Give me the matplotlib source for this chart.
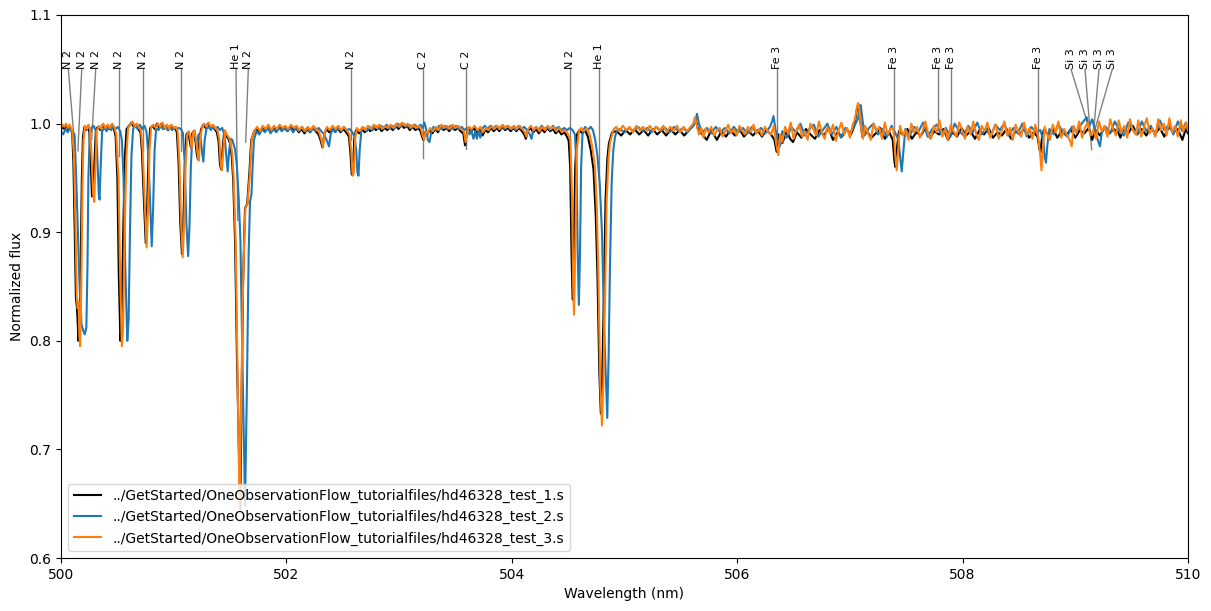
import numpy as np
import matplotlib
matplotlib.use('Agg')
import matplotlib.pyplot as plt

# file names shown in legend
names = ['../GetStarted/OneObservationFlow_tutorialfiles/hd46328_test_1.s',
         '../GetStarted/OneObservationFlow_tutorialfiles/hd46328_test_2.s',
         '../GetStarted/OneObservationFlow_tutorialfiles/hd46328_test_3.s']

# (wavelength nm, normalized flux)
spec_1 = [
    (500.000, 0.994), (500.015, 0.998), (500.030, 0.995), (500.045, 0.999), (500.060, 0.995), (500.075, 0.998),
    (500.090, 0.995), (500.100, 0.990), (500.110, 0.965), (500.122, 0.900), (500.132, 0.840), (500.140, 0.832),
    (500.147, 0.820), (500.155, 0.800), (500.165, 0.815), (500.175, 0.870), (500.185, 0.950), (500.195, 0.988),
    (500.208, 0.997), (500.225, 0.994), (500.240, 0.998), (500.252, 0.992), (500.263, 0.968), (500.275, 0.933),
    (500.285, 0.935), (500.297, 0.965), (500.310, 0.995), (500.330, 0.997), (500.350, 0.994), (500.370, 0.999),
    (500.390, 0.995), (500.410, 0.998), (500.430, 0.995), (500.450, 0.999), (500.470, 0.995), (500.485, 0.988),
    (500.500, 0.950), (500.513, 0.860), (500.527, 0.800), (500.538, 0.815), (500.552, 0.900), (500.567, 0.970),
    (500.582, 0.995), (500.605, 0.998), (500.625, 1.001), (500.645, 0.997), (500.665, 0.999), (500.685, 0.995),
    (500.705, 0.992), (500.718, 0.975), (500.735, 0.930), (500.752, 0.890), (500.764, 0.920), (500.777, 0.975),
    (500.792, 0.996), (500.812, 0.998), (500.832, 0.995), (500.852, 1.000), (500.872, 0.996), (500.892, 1.000),
    (500.912, 0.995), (500.932, 0.998), (500.952, 0.994), (500.972, 0.998), (500.992, 0.995), (501.012, 0.996),
    (501.028, 0.992), (501.043, 0.965), (501.058, 0.910), (501.073, 0.880), (501.085, 0.905), (501.098, 0.960),
    (501.113, 0.990), (501.128, 0.992), (501.143, 0.984), (501.153, 0.978), (501.165, 0.991), (501.178, 0.993),
    (501.193, 0.984), (501.205, 0.972), (501.215, 0.967), (501.228, 0.985), (501.243, 0.995), (501.263, 0.999),
    (501.283, 0.996), (501.303, 1.000), (501.323, 0.996), (501.343, 0.998), (501.363, 0.995), (501.383, 0.992),
    (501.398, 0.984), (501.411, 0.962), (501.421, 0.958), (501.433, 0.975), (501.448, 0.993), (501.465, 0.989),
    (501.485, 0.986), (501.500, 0.982), (501.515, 0.970), (501.528, 0.948), (501.545, 0.890), (501.562, 0.780),
    (501.590, 0.645), (501.603, 0.750), (501.615, 0.850), (501.625, 0.893), (501.633, 0.922), (501.652, 0.926),
    (501.672, 0.955), (501.688, 0.985), (501.715, 0.993), (501.735, 0.995), (501.760, 0.991), (501.785, 0.996),
    (501.810, 0.993), (501.835, 0.997), (501.860, 0.992), (501.885, 0.996), (501.910, 0.993), (501.935, 0.997),
    (501.960, 0.994), (501.985, 0.996), (502.010, 0.993), (502.035, 0.997), (502.060, 0.994), (502.085, 0.996),
    (502.110, 0.992), (502.135, 0.995), (502.160, 0.991), (502.185, 0.995), (502.210, 0.992), (502.235, 0.996),
    (502.260, 0.993), (502.285, 0.990), (502.305, 0.984), (502.320, 0.978), (502.335, 0.990), (502.355, 0.995),
    (502.380, 0.992), (502.405, 0.996), (502.430, 0.993), (502.455, 0.996), (502.480, 0.992), (502.505, 0.995),
    (502.530, 0.992), (502.555, 0.988), (502.568, 0.973), (502.580, 0.953), (502.590, 0.956), (502.602, 0.985),
    (502.617, 0.994), (502.645, 0.991), (502.670, 0.995), (502.695, 0.992), (502.720, 0.996), (502.745, 0.993),
    (502.770, 0.997), (502.795, 0.994), (502.820, 0.997), (502.845, 0.993), (502.870, 0.996), (502.895, 0.994),
    (502.920, 0.997), (502.945, 0.994), (502.970, 0.998), (502.995, 0.995), (503.020, 0.999), (503.045, 0.996),
    (503.070, 0.998), (503.095, 0.994), (503.120, 0.997), (503.145, 0.994), (503.170, 0.996), (503.190, 0.993),
    (503.207, 0.987), (503.217, 0.985), (503.230, 0.992), (503.250, 0.990), (503.270, 0.994), (503.295, 0.991),
    (503.320, 0.995), (503.345, 0.992), (503.370, 0.997), (503.395, 0.994), (503.420, 0.996), (503.445, 0.993),
    (503.470, 0.997), (503.495, 0.994), (503.520, 0.996), (503.545, 0.993), (503.570, 0.991), (503.585, 0.980),
    (503.597, 0.988), (503.615, 0.995), (503.640, 0.993), (503.665, 0.996), (503.690, 0.991), (503.715, 0.995),
    (503.740, 0.989), (503.765, 0.994), (503.790, 0.992), (503.815, 0.996), (503.840, 0.993), (503.865, 0.996),
    (503.890, 0.993), (503.915, 0.997), (503.940, 0.994), (503.965, 0.996), (503.990, 0.993), (504.015, 0.996),
    (504.040, 0.993), (504.065, 0.996), (504.090, 0.993), (504.110, 0.990), (504.125, 0.986), (504.140, 0.993),
    (504.165, 0.996), (504.190, 0.992), (504.215, 0.995), (504.240, 0.991), (504.265, 0.995), (504.290, 0.992),
    (504.315, 0.996), (504.340, 0.993), (504.365, 0.995), (504.390, 0.991), (504.415, 0.994), (504.440, 0.990),
    (504.465, 0.992), (504.490, 0.988), (504.505, 0.984), (504.518, 0.960), (504.530, 0.880), (504.540, 0.838),
    (504.550, 0.880), (504.563, 0.960), (504.578, 0.990), (504.600, 0.994), (504.625, 0.991), (504.650, 0.994),
    (504.675, 0.988), (504.700, 0.976), (504.725, 0.958), (504.745, 0.915), (504.760, 0.860), (504.777, 0.770),
    (504.790, 0.733), (504.802, 0.765), (504.817, 0.840), (504.832, 0.930), (504.848, 0.968), (504.862, 0.982),
    (504.890, 0.992), (504.930, 0.993), (504.970, 0.989), (505.010, 0.994), (505.050, 0.990), (505.090, 0.995),
    (505.130, 0.990), (505.170, 0.994), (505.210, 0.989), (505.250, 0.995), (505.290, 0.990), (505.330, 0.994),
    (505.370, 0.989), (505.410, 0.995), (505.450, 0.990), (505.490, 0.994), (505.530, 0.989), (505.570, 0.994),
    (505.610, 0.998), (505.630, 1.004), (505.650, 0.996), (505.690, 0.990), (505.730, 0.985), (505.770, 0.994),
    (505.820, 0.985), (505.860, 0.993), (505.900, 0.988), (505.940, 0.994), (505.980, 0.989), (506.020, 0.995),
    (506.060, 0.988), (506.100, 0.993), (506.140, 0.989), (506.180, 0.994), (506.220, 0.988), (506.260, 0.994),
    (506.300, 0.990), (506.330, 0.985), (506.350, 0.974), (506.370, 0.990), (506.400, 0.982), (506.440, 0.993),
    (506.470, 0.986), (506.495, 0.983), (506.530, 0.992), (506.570, 0.987), (506.610, 0.995), (506.650, 0.990),
    (506.690, 0.986), (506.730, 0.994), (506.770, 0.989), (506.810, 0.996), (506.850, 0.985), (506.890, 0.992),
    (506.930, 0.988), (506.970, 0.995), (507.010, 0.990), (507.040, 0.998), (507.060, 1.012), (507.075, 1.018),
    (507.090, 1.005), (507.110, 0.988), (507.150, 0.993), (507.190, 0.987), (507.230, 0.991), (507.270, 0.996),
    (507.310, 0.986), (507.350, 0.992), (507.380, 0.985), (507.395, 0.965), (507.405, 0.960), (507.418, 0.978),
    (507.435, 0.993), (507.470, 0.990), (507.510, 0.995), (507.550, 0.986), (507.590, 0.992), (507.630, 0.989),
    (507.670, 0.996), (507.710, 0.987), (507.750, 0.993), (507.790, 0.990), (507.830, 0.995), (507.870, 0.985),
    (507.910, 0.992), (507.950, 0.988), (507.990, 0.996), (508.030, 0.989), (508.070, 0.993), (508.110, 0.986),
    (508.150, 0.994), (508.190, 0.990), (508.230, 0.996), (508.270, 0.987), (508.310, 0.992), (508.350, 0.989),
    (508.390, 0.995), (508.430, 0.986), (508.470, 0.993), (508.510, 0.990), (508.550, 0.996), (508.590, 0.987),
    (508.630, 0.992), (508.665, 0.988), (508.680, 0.978), (508.690, 0.973), (508.702, 0.985), (508.720, 0.994),
    (508.760, 0.990), (508.800, 0.996), (508.840, 0.987), (508.880, 0.993), (508.920, 0.989), (508.960, 0.995),
    (509.000, 0.987), (509.040, 0.994), (509.080, 0.991), (509.120, 0.996), (509.150, 0.985), (509.180, 0.994),
    (509.220, 0.989), (509.260, 0.997), (509.300, 0.991), (509.340, 0.995), (509.380, 0.992), (509.400, 0.987),
    (509.430, 0.996), (509.470, 0.991), (509.510, 0.998), (509.550, 0.990), (509.590, 0.995), (509.630, 0.989),
    (509.670, 0.997), (509.710, 0.991), (509.750, 0.996), (509.790, 0.988), (509.830, 0.997), (509.870, 0.992),
    (509.910, 0.995), (509.950, 0.985), (509.980, 0.995), (510.000, 0.991),
]

spec_2 = [
    (500.000, 0.993), (500.020, 0.990), (500.040, 0.995), (500.060, 0.992), (500.080, 0.996), (500.100, 0.993),
    (500.120, 0.990), (500.135, 0.950), (500.150, 0.900), (500.165, 0.850), (500.182, 0.815), (500.195, 0.810),
    (500.210, 0.806), (500.225, 0.812), (500.235, 0.870), (500.243, 0.950), (500.255, 0.990), (500.270, 0.996),
    (500.290, 0.998), (500.310, 0.993), (500.322, 0.970), (500.335, 0.935), (500.342, 0.930), (500.352, 0.960),
    (500.365, 0.993), (500.385, 0.996), (500.405, 0.993), (500.425, 0.997), (500.445, 0.994), (500.465, 0.998),
    (500.485, 0.995), (500.505, 0.997), (500.525, 0.993), (500.540, 0.985), (500.555, 0.950), (500.570, 0.870),
    (500.588, 0.800), (500.600, 0.820), (500.612, 0.900), (500.625, 0.970), (500.640, 0.995), (500.660, 0.998),
    (500.680, 0.995), (500.700, 0.999), (500.720, 0.995), (500.740, 0.998), (500.758, 0.993), (500.772, 0.975),
    (500.790, 0.930), (500.805, 0.887), (500.817, 0.920), (500.830, 0.975), (500.845, 0.996), (500.865, 0.994),
    (500.885, 0.998), (500.905, 0.995), (500.925, 0.998), (500.945, 0.994), (500.965, 0.997), (500.985, 0.994),
    (501.005, 0.997), (501.025, 0.995), (501.045, 0.996), (501.065, 0.995), (501.082, 0.991), (501.097, 0.965),
    (501.112, 0.910), (501.128, 0.878), (501.140, 0.905), (501.152, 0.960), (501.165, 0.988), (501.180, 0.992),
    (501.195, 0.985), (501.208, 0.978), (501.220, 0.990), (501.235, 0.990), (501.250, 0.975), (501.263, 0.965),
    (501.275, 0.985), (501.290, 0.995), (501.310, 0.997), (501.330, 0.994), (501.350, 0.998), (501.370, 0.995),
    (501.390, 0.997), (501.410, 0.994), (501.430, 0.996), (501.450, 0.990), (501.463, 0.975), (501.479, 0.956),
    (501.492, 0.975), (501.505, 0.986), (501.520, 0.985), (501.545, 0.976), (501.560, 0.962), (501.575, 0.935),
    (501.592, 0.893), (501.610, 0.780), (501.633, 0.648), (501.650, 0.760), (501.665, 0.880), (501.677, 0.928),
    (501.690, 0.935), (501.700, 0.960), (501.712, 0.985), (501.735, 0.993), (501.760, 0.990), (501.785, 0.995),
    (501.810, 0.992), (501.835, 0.996), (501.860, 0.991), (501.885, 0.995), (501.910, 0.992), (501.935, 0.996),
    (501.960, 0.993), (501.985, 0.997), (502.010, 0.993), (502.035, 0.996), (502.060, 0.992), (502.085, 0.996),
    (502.110, 0.993), (502.135, 0.997), (502.160, 0.993), (502.185, 0.996), (502.210, 0.992), (502.235, 0.996),
    (502.260, 0.993), (502.285, 0.996), (502.310, 0.993), (502.335, 0.990), (502.360, 0.984), (502.378, 0.979),
    (502.392, 0.990), (502.410, 0.995), (502.435, 0.992), (502.460, 0.996), (502.485, 0.993), (502.510, 0.997),
    (502.535, 0.994), (502.560, 0.995), (502.585, 0.992), (502.605, 0.988), (502.620, 0.975), (502.630, 0.955),
    (502.640, 0.952), (502.650, 0.975), (502.665, 0.994), (502.690, 0.996), (502.715, 0.993), (502.740, 0.997),
    (502.765, 0.994), (502.790, 0.998), (502.815, 0.995), (502.840, 0.998), (502.865, 0.996), (502.890, 0.999),
    (502.915, 0.995), (502.940, 0.998), (502.965, 0.996), (502.990, 1.000), (503.015, 0.997), (503.040, 1.000),
    (503.065, 0.997), (503.090, 0.999), (503.115, 0.996), (503.140, 0.999), (503.165, 0.996), (503.190, 0.999),
    (503.210, 0.996), (503.225, 1.001), (503.240, 0.995), (503.255, 0.985), (503.270, 0.983), (503.285, 0.992),
    (503.305, 0.997), (503.330, 0.994), (503.355, 0.998), (503.380, 0.995), (503.405, 0.998), (503.430, 0.995),
    (503.455, 0.998), (503.480, 0.995), (503.505, 0.998), (503.530, 0.995), (503.555, 0.997), (503.580, 0.994),
    (503.605, 0.996), (503.625, 0.990), (503.640, 0.994), (503.660, 0.986), (503.675, 0.993), (503.690, 0.986),
    (503.705, 0.994), (503.720, 0.987), (503.735, 0.995), (503.760, 0.998), (503.785, 0.995), (503.810, 0.998),
    (503.835, 0.995), (503.860, 0.998), (503.885, 0.995), (503.910, 0.998), (503.935, 0.995), (503.960, 0.998),
    (503.985, 0.995), (504.010, 0.997), (504.035, 0.994), (504.060, 0.998), (504.085, 0.995), (504.110, 0.997),
    (504.135, 0.994), (504.160, 0.990), (504.175, 0.986), (504.190, 0.994), (504.215, 0.997), (504.240, 0.994),
    (504.265, 0.998), (504.290, 0.995), (504.315, 0.997), (504.340, 0.994), (504.365, 0.998), (504.390, 0.995),
    (504.415, 0.997), (504.440, 0.994), (504.465, 0.996), (504.490, 0.994), (504.515, 0.996), (504.540, 0.994),
    (504.560, 0.990), (504.575, 0.960), (504.585, 0.880), (504.595, 0.833), (504.605, 0.880), (504.615, 0.960),
    (504.628, 0.992), (504.650, 0.997), (504.675, 0.994), (504.700, 0.997), (504.720, 0.994), (504.740, 0.985),
    (504.760, 0.970), (504.780, 0.945), (504.800, 0.900), (504.820, 0.810), (504.847, 0.729), (504.860, 0.790),
    (504.871, 0.868), (504.886, 0.945), (504.900, 0.975), (504.916, 0.988), (504.935, 0.994), (504.960, 0.995),
    (505.000, 0.992), (505.040, 0.996), (505.080, 0.993), (505.120, 0.997), (505.160, 0.993), (505.200, 0.996),
    (505.240, 0.992), (505.280, 0.997), (505.320, 0.993), (505.360, 0.996), (505.400, 0.992), (505.440, 0.997),
    (505.480, 0.993), (505.520, 0.996), (505.560, 0.992), (505.600, 0.997), (505.625, 1.001), (505.643, 1.009),
    (505.660, 1.000), (505.690, 0.992), (505.730, 0.996), (505.770, 0.991), (505.810, 0.997), (505.850, 0.992),
    (505.890, 0.996), (505.930, 0.991), (505.970, 0.997), (506.010, 0.992), (506.050, 0.996), (506.090, 0.991),
    (506.130, 0.997), (506.170, 0.992), (506.210, 0.996), (506.250, 0.991), (506.290, 0.997), (506.310, 1.002),
    (506.322, 1.007), (506.335, 0.998), (506.355, 0.985), (506.380, 0.979), (506.400, 0.993), (506.440, 0.987),
    (506.480, 0.997), (506.520, 0.992), (506.560, 1.000), (506.600, 0.989), (506.640, 0.995), (506.680, 0.999),
    (506.720, 0.988), (506.760, 0.994), (506.800, 1.000), (506.840, 0.990), (506.880, 0.997), (506.920, 0.987),
    (506.960, 0.996), (507.000, 0.991), (507.040, 0.998), (507.070, 1.004), (507.085, 1.013), (507.096, 1.017),
    (507.110, 1.005), (507.130, 0.989), (507.170, 0.996), (507.210, 1.000), (507.250, 0.990), (507.290, 0.995),
    (507.330, 0.988), (507.370, 0.998), (507.400, 0.992), (507.430, 0.985), (507.447, 0.968), (507.460, 0.956),
    (507.475, 0.975), (507.492, 0.995), (507.530, 0.989), (507.570, 0.997), (507.610, 0.993), (507.650, 1.001),
    (507.690, 0.988), (507.730, 0.995), (507.770, 0.999), (507.810, 0.990), (507.850, 0.996), (507.890, 0.988),
    (507.930, 1.000), (507.970, 0.993), (508.010, 0.989), (508.050, 0.998), (508.090, 0.992), (508.130, 1.001),
    (508.170, 0.990), (508.210, 0.995), (508.250, 0.988), (508.290, 0.999), (508.330, 0.994), (508.370, 1.000),
    (508.410, 0.989), (508.450, 0.996), (508.490, 0.991), (508.530, 1.000), (508.570, 0.988), (508.610, 0.997),
    (508.650, 0.992), (508.690, 0.994), (508.715, 0.985), (508.730, 0.968), (508.740, 0.964), (508.752, 0.980),
    (508.770, 0.995), (508.810, 0.990), (508.850, 0.999), (508.890, 0.993), (508.930, 0.988), (508.970, 0.997),
    (509.010, 0.992), (509.050, 0.999), (509.080, 1.003), (509.100, 1.006), (509.120, 0.997), (509.150, 1.004),
    (509.180, 0.992), (509.205, 0.983), (509.219, 0.979), (509.235, 0.992), (509.270, 0.997), (509.310, 0.991),
    (509.350, 1.002), (509.390, 0.994), (509.430, 0.989), (509.470, 1.001), (509.510, 0.995), (509.550, 0.990),
    (509.590, 1.002), (509.630, 0.993), (509.670, 0.998), (509.710, 0.989), (509.750, 1.003), (509.790, 0.994),
    (509.830, 0.999), (509.870, 0.990), (509.910, 1.002), (509.950, 0.993), (509.980, 1.001), (510.000, 0.993),
]

spec_3 = [
    (500.000, 0.996), (500.015, 0.999), (500.030, 0.997), (500.045, 1.000), (500.060, 0.996), (500.075, 0.999),
    (500.090, 0.996), (500.100, 0.993), (500.115, 0.970), (500.130, 0.900), (500.140, 0.840), (500.148, 0.830),
    (500.155, 0.836), (500.163, 0.805), (500.170, 0.795), (500.180, 0.850), (500.190, 0.940), (500.200, 0.985),
    (500.213, 0.998), (500.230, 0.995), (500.245, 0.999), (500.258, 0.994), (500.270, 0.972), (500.285, 0.935),
    (500.295, 0.928), (500.305, 0.960), (500.318, 0.994), (500.335, 0.998), (500.355, 0.995), (500.375, 1.000),
    (500.395, 0.996), (500.415, 0.999), (500.435, 0.996), (500.455, 1.000), (500.475, 0.996), (500.490, 0.990),
    (500.510, 0.950), (500.525, 0.860), (500.540, 0.795), (500.550, 0.810), (500.565, 0.900), (500.580, 0.970),
    (500.595, 0.996), (500.615, 0.999), (500.635, 1.002), (500.655, 0.997), (500.675, 1.000), (500.695, 0.996),
    (500.710, 0.993), (500.725, 0.975), (500.742, 0.930), (500.760, 0.886), (500.772, 0.920), (500.785, 0.975),
    (500.800, 0.997), (500.820, 0.999), (500.840, 0.996), (500.860, 1.000), (500.880, 0.997), (500.900, 1.001),
    (500.920, 0.996), (500.940, 0.999), (500.960, 0.995), (500.980, 0.999), (501.000, 0.996), (501.020, 0.997),
    (501.035, 0.993), (501.050, 0.965), (501.065, 0.910), (501.080, 0.877), (501.092, 0.905), (501.105, 0.960),
    (501.120, 0.990), (501.135, 0.993), (501.150, 0.985), (501.160, 0.978), (501.172, 0.992), (501.185, 0.994),
    (501.200, 0.985), (501.212, 0.972), (501.222, 0.966), (501.235, 0.985), (501.250, 0.996), (501.270, 1.000),
    (501.290, 0.997), (501.310, 1.001), (501.330, 0.997), (501.350, 0.999), (501.370, 0.996), (501.390, 0.993),
    (501.405, 0.985), (501.418, 0.962), (501.428, 0.957), (501.440, 0.975), (501.455, 0.994), (501.470, 0.990),
    (501.490, 0.987), (501.505, 0.983), (501.520, 0.972), (501.532, 0.950), (501.550, 0.890), (501.565, 0.780),
    (501.584, 0.645), (501.600, 0.750), (501.615, 0.850), (501.626, 0.893), (501.636, 0.922), (501.655, 0.926),
    (501.677, 0.955), (501.692, 0.986), (501.720, 0.994), (501.740, 0.997), (501.765, 0.993), (501.790, 0.998),
    (501.815, 0.995), (501.840, 0.999), (501.865, 0.994), (501.890, 0.998), (501.915, 0.995), (501.940, 0.999),
    (501.965, 0.996), (501.990, 0.998), (502.015, 0.995), (502.040, 0.999), (502.065, 0.996), (502.090, 0.998),
    (502.115, 0.994), (502.140, 0.997), (502.165, 0.993), (502.190, 0.997), (502.215, 0.994), (502.240, 0.998),
    (502.265, 0.995), (502.290, 0.992), (502.310, 0.985), (502.325, 0.978), (502.340, 0.992), (502.360, 0.997),
    (502.385, 0.994), (502.410, 0.998), (502.435, 0.995), (502.460, 0.998), (502.485, 0.994), (502.510, 0.997),
    (502.535, 0.994), (502.560, 0.990), (502.575, 0.975), (502.588, 0.952), (502.598, 0.955), (502.610, 0.985),
    (502.625, 0.996), (502.650, 0.993), (502.675, 0.997), (502.700, 0.994), (502.725, 0.998), (502.750, 0.995),
    (502.775, 0.999), (502.800, 0.996), (502.825, 0.999), (502.850, 0.995), (502.875, 0.998), (502.900, 0.996),
    (502.925, 0.999), (502.950, 0.996), (502.975, 1.000), (503.000, 0.997), (503.025, 1.001), (503.050, 0.998),
    (503.075, 1.000), (503.100, 0.996), (503.125, 0.999), (503.150, 0.996), (503.175, 0.998), (503.195, 0.995),
    (503.212, 0.988), (503.222, 0.985), (503.235, 0.993), (503.255, 0.991), (503.275, 0.996), (503.300, 0.993),
    (503.325, 0.997), (503.350, 0.994), (503.375, 0.999), (503.400, 0.996), (503.425, 0.998), (503.450, 0.995),
    (503.475, 0.999), (503.500, 0.996), (503.525, 0.998), (503.550, 0.995), (503.575, 0.993), (503.590, 0.983),
    (503.602, 0.990), (503.620, 0.997), (503.645, 0.995), (503.670, 0.998), (503.695, 0.994), (503.720, 0.997),
    (503.745, 0.992), (503.770, 0.996), (503.795, 0.994), (503.820, 0.998), (503.845, 0.995), (503.870, 0.998),
    (503.895, 0.995), (503.920, 0.999), (503.945, 0.996), (503.970, 0.998), (503.995, 0.995), (504.020, 0.998),
    (504.045, 0.995), (504.070, 0.998), (504.095, 0.995), (504.115, 0.992), (504.130, 0.988), (504.145, 0.995),
    (504.170, 0.998), (504.195, 0.994), (504.220, 0.997), (504.245, 0.993), (504.270, 0.997), (504.295, 0.994),
    (504.320, 0.998), (504.345, 0.995), (504.370, 0.997), (504.395, 0.993), (504.420, 0.996), (504.445, 0.992),
    (504.470, 0.994), (504.495, 0.991), (504.520, 0.985), (504.535, 0.930), (504.545, 0.850), (504.552, 0.824),
    (504.562, 0.880), (504.578, 0.976), (504.595, 0.993), (504.615, 0.996), (504.640, 0.993), (504.665, 0.996),
    (504.690, 0.990), (504.715, 0.978), (504.738, 0.960), (504.755, 0.920), (504.767, 0.868), (504.785, 0.760),
    (504.800, 0.722), (504.812, 0.760), (504.827, 0.838), (504.842, 0.930), (504.858, 0.968), (504.871, 0.982),
    (504.900, 0.994), (504.925, 0.997), (504.955, 0.993), (504.985, 0.998), (505.015, 0.994), (505.045, 0.997),
    (505.075, 0.992), (505.105, 0.998), (505.135, 0.994), (505.165, 0.997), (505.195, 0.993), (505.225, 0.998),
    (505.255, 0.993), (505.285, 0.997), (505.315, 0.994), (505.345, 0.998), (505.375, 0.992), (505.405, 0.997),
    (505.435, 0.993), (505.465, 0.998), (505.495, 0.992), (505.525, 0.997), (505.555, 0.993), (505.585, 0.997),
    (505.610, 1.000), (505.625, 1.006), (505.640, 0.999), (505.660, 0.990), (505.680, 0.996), (505.700, 0.987),
    (505.720, 0.995), (505.745, 0.992), (505.770, 0.997), (505.795, 0.989), (505.820, 0.994), (505.845, 0.996),
    (505.870, 0.988), (505.895, 0.993), (505.920, 0.999), (505.945, 0.991), (505.970, 0.995), (505.995, 0.989),
    (506.020, 0.998), (506.045, 0.993), (506.070, 0.990), (506.095, 0.997), (506.120, 0.992), (506.145, 0.999),
    (506.170, 0.991), (506.195, 0.995), (506.220, 0.989), (506.245, 0.997), (506.270, 0.993), (506.300, 0.990),
    (506.325, 0.998), (506.345, 0.982), (506.365, 0.971), (506.380, 0.990), (506.400, 0.983), (506.425, 0.997),
    (506.450, 0.991), (506.475, 1.001), (506.500, 0.986), (506.525, 0.994), (506.550, 0.999), (506.575, 0.988),
    (506.600, 0.993), (506.625, 0.985), (506.650, 1.000), (506.675, 0.995), (506.700, 0.989), (506.725, 1.002),
    (506.750, 0.992), (506.775, 0.986), (506.800, 0.997), (506.825, 0.991), (506.850, 0.999), (506.875, 0.984),
    (506.900, 0.994), (506.925, 1.001), (506.950, 0.990), (506.975, 0.996), (507.000, 0.987), (507.025, 0.999),
    (507.045, 1.004), (507.060, 1.014), (507.072, 1.019), (507.085, 1.012), (507.100, 0.995), (507.115, 0.986),
    (507.135, 0.998), (507.160, 0.991), (507.185, 0.985), (507.210, 1.000), (507.235, 0.993), (507.260, 0.997),
    (507.285, 0.986), (507.310, 1.001), (507.335, 0.990), (507.360, 0.995), (507.385, 0.996), (507.403, 0.970),
    (507.415, 0.957), (507.428, 0.975), (507.445, 0.998), (507.470, 0.989), (507.495, 0.994), (507.520, 0.985),
    (507.545, 1.000), (507.570, 0.992), (507.595, 0.997), (507.620, 0.987), (507.645, 0.993), (507.670, 1.002),
    (507.695, 0.990), (507.720, 0.986), (507.745, 0.998), (507.770, 0.992), (507.795, 1.003), (507.820, 0.988),
    (507.845, 0.995), (507.870, 0.985), (507.895, 0.999), (507.920, 0.993), (507.945, 0.988), (507.970, 1.001),
    (507.995, 0.994), (508.020, 0.986), (508.045, 0.997), (508.070, 0.990), (508.095, 1.002), (508.120, 0.991),
    (508.145, 0.985), (508.170, 0.998), (508.195, 0.993), (508.220, 1.001), (508.245, 0.987), (508.270, 0.994),
    (508.295, 0.999), (508.320, 0.986), (508.345, 0.992), (508.370, 1.002), (508.395, 0.989), (508.420, 0.996),
    (508.445, 0.985), (508.470, 0.999), (508.495, 0.993), (508.520, 0.988), (508.545, 1.001), (508.570, 0.990),
    (508.595, 0.996), (508.620, 0.986), (508.645, 0.999), (508.670, 0.988), (508.688, 0.972), (508.700, 0.957),
    (508.712, 0.975), (508.728, 0.997), (508.750, 0.990), (508.775, 0.985), (508.800, 0.999), (508.825, 0.992),
    (508.850, 1.002), (508.875, 0.987), (508.900, 0.995), (508.925, 0.990), (508.950, 0.985), (508.968, 0.979),
    (508.985, 0.998), (509.010, 0.991), (509.035, 1.002), (509.060, 0.987), (509.085, 0.996), (509.110, 1.001),
    (509.135, 0.989), (509.160, 0.994), (509.185, 0.986), (509.210, 1.002), (509.235, 0.993), (509.260, 0.998),
    (509.285, 0.988), (509.310, 1.004), (509.335, 0.995), (509.360, 0.989), (509.385, 1.003), (509.410, 0.992),
    (509.435, 0.998), (509.460, 0.987), (509.485, 1.004), (509.510, 0.994), (509.535, 0.990), (509.560, 1.003),
    (509.585, 0.988), (509.610, 0.997), (509.635, 1.005), (509.660, 0.991), (509.685, 0.996), (509.710, 0.988),
    (509.735, 1.004), (509.760, 0.994), (509.785, 1.000), (509.810, 0.989), (509.835, 1.005), (509.860, 0.992),
    (509.885, 0.998), (509.910, 0.988), (509.935, 1.003), (509.960, 0.993), (509.985, 1.001), (510.000, 0.994),
]

# line identifications: label, line position, label position, depth mark
line_names = ['N 2', 'N 2', 'N 2', 'N 2', 'N 2', 'N 2', 'He 1', 'N 2', 'N 2', 'C 2', 'C 2',
              'N 2', 'He 1', 'Fe 3', 'Fe 3', 'Fe 3', 'Fe 3', 'Fe 3', 'Si 3', 'Si 3', 'Si 3', 'Si 3']
line_wl = [500.125, 500.150, 500.272, 500.515, 500.730, 501.065, 501.568, 501.639, 502.573, 503.215, 503.594,
           504.516, 504.777, 506.356, 507.394, 507.779, 507.897, 508.672, 509.124, 509.145, 509.160, 509.175]
label_wl = [500.065, 500.184, 500.308, 500.515, 500.730, 501.065, 501.553, 501.662, 502.573, 503.215, 503.594,
            504.516, 504.777, 506.356, 507.394, 507.779, 507.897, 508.672, 508.962, 509.086, 509.210, 509.328]
line_end = [0.975, 0.975, 0.985, 0.970, 0.975, 0.975, 0.911, 0.983, 0.985, 0.968, 0.977,
            0.985, 0.942, 0.990, 0.990, 0.995, 0.995, 0.990, 0.995, 0.976, 0.990, 0.995]
label_y = 1.05

fig = plt.figure(figsize=(12.11, 6.11), dpi=100)
ax = fig.add_axes([61 / 1211, 1 - 558 / 611, 1127 / 1211, 543 / 611])

for spec, name, col in zip([spec_1, spec_2, spec_3], names, ['k', 'C0', 'C1']):
    wl, fx = np.array(spec).T
    ax.plot(wl, fx, color=col, lw=1.5, label=name, zorder=2)

for nm, lw_, lx, ly in zip(line_names, line_wl, label_wl, line_end):
    ax.plot([lx, lw_], [label_y, ly], color='grey', lw=1, zorder=1)
    ax.text(lx, label_y, nm, rotation=90, fontsize=8, ha='center', va='bottom')

ax.set_xlim(500, 510)
ax.set_ylim(0.6, 1.1)
ax.set_xlabel('Wavelength (nm)')
ax.set_ylabel('Normalized flux')
ax.legend(loc='lower left')

fig.savefig('out.png', dpi=100)
